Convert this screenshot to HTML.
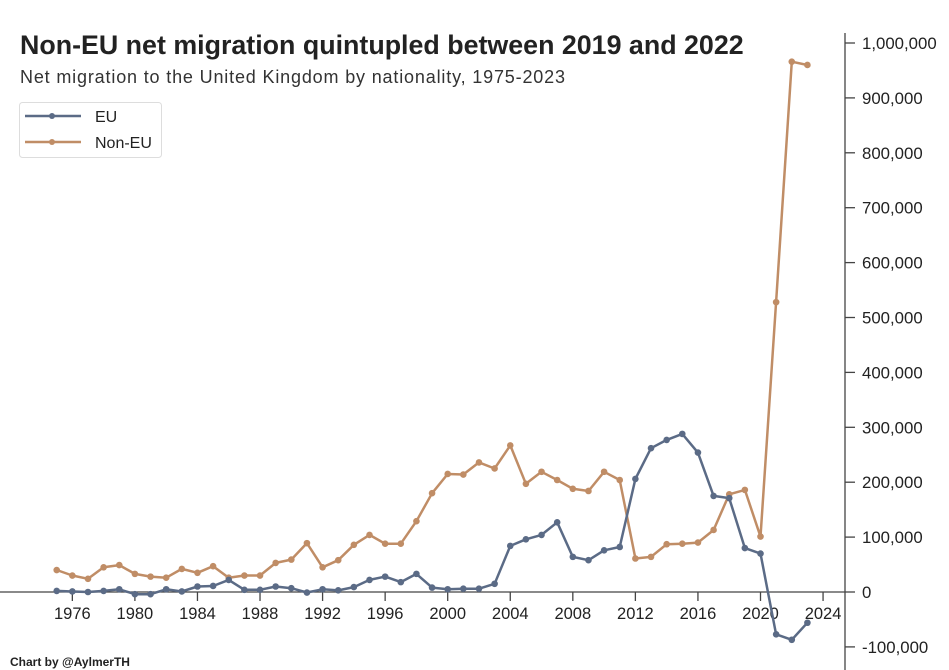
<!DOCTYPE html>
<html><head><meta charset="utf-8"><style>
body{margin:0;background:#fff;}
svg{display:block;font-family:"Liberation Sans",sans-serif;}
</style></head><body>
<svg id="chart" width="949" height="670">
<rect width="949" height="670" fill="#fff"/>
<text x="20" y="54" font-size="26.8" font-weight="bold" fill="#222">Non-EU net migration quintupled between 2019 and 2022</text>
<text x="20" y="83" font-size="18" fill="#333" textLength="545" lengthAdjust="spacing">Net migration to the United Kingdom by nationality, 1975-2023</text>
<g id="axes"></g>
<g id="series"></g>
<g>
<rect x="19.5" y="102.5" width="142" height="55" rx="3" fill="#fff" stroke="#ddd"/>
<g>
<line x1="25" y1="116" x2="81" y2="116" stroke="#5b6b86" stroke-width="2.5"/><circle cx="52" cy="116" r="3" fill="#5b6b86"/>
<text x="95" y="122" font-size="16" fill="#222">EU</text></g>
<g>
<line x1="25" y1="142" x2="81" y2="142" stroke="#c08d66" stroke-width="2.5"/><circle cx="52" cy="142" r="3" fill="#c08d66"/>
<text x="95" y="148" font-size="16" fill="#222">Non-EU</text></g>
</g>
<text x="10" y="666" font-size="12" font-weight="bold" fill="#222">Chart by @AylmerTH</text>
</svg>
<script>
const years=[1975,1976,1977,1978,1979,1980,1981,1982,1983,1984,1985,1986,1987,1988,1989,1990,1991,1992,1993,1994,1995,1996,1997,1998,1999,2000,2001,2002,2003,2004,2005,2006,2007,2008,2009,2010,2011,2012,2013,2014,2015,2016,2017,2018,2019,2020,2021,2022,2023];
const euValues=[2000,1000,0,2000,5000,-4000,-4000,5000,1000,10000,11000,22000,4000,4000,10000,7000,-1000,5000,3000,9000,22000,28000,18000,33000,8000,5000,6000,6000,15000,84000,96000,104000,127000,64000,58000,76000,82000,206000,262000,277000,288000,254000,175000,171000,80000,70000,-77000,-87000,-56000];
const nonEuValues=[40000,30000,24000,45000,49000,33000,28000,26000,42000,35000,47000,26000,30000,30000,53000,59000,89000,45000,58000,86000,104000,88000,88000,129000,180000,215000,214000,236000,225000,267000,197000,219000,204000,188000,184000,219000,204000,61000,64000,87000,88000,90000,113000,178000,186000,101000,528000,966000,960000];
const yTicks=[-100000,0,100000,200000,300000,400000,500000,600000,700000,800000,900000,1000000];
const xTicks=[1976,1980,1984,1988,1992,1996,2000,2004,2008,2012,2016,2020,2024];
const NS='http://www.w3.org/2000/svg';
const x=v=>447.7+(v-2000)*15.64;
const y=v=>592-v*0.000549;
function mk(t,a,p){const e=document.createElementNS(NS,t);for(const k in a)e.setAttribute(k,a[k]);p.appendChild(e);return e;}
const axes=document.getElementById('axes');
const fmt=v=>v.toLocaleString('en-US');
let zl=mk('line',{x1:0,x2:845,y1:y(0),y2:y(0),stroke:'#444','stroke-width':1.3},axes);


let yl=mk('line',{x1:845,x2:845,y1:33,y2:670,stroke:'#444','stroke-width':1.3},axes);


yTicks.forEach(v=>{
 const g=mk('g',{},axes);
 
 
 mk('line',{x1:845,x2:855,y1:y(v),y2:y(v),stroke:'#444','stroke-width':1.3},g);
 const t=mk('text',{x:862,y:y(v)+6,'font-size':16.8,fill:'#222'},g);t.textContent=fmt(v);
});
xTicks.forEach(v=>{
 const g=mk('g',{},axes);
 
 
 mk('line',{x1:x(v),x2:x(v),y1:y(0),y2:y(0)+9,stroke:'#444','stroke-width':1.3},g);
 const t=mk('text',{x:x(v),y:619,'font-size':16.5,fill:'#222','text-anchor':'middle'},g);t.textContent=v;
});
const ser=document.getElementById('series');
function draw(vals,color,name){
 const g=mk('g',{},ser);
 
 
 const pts=years.map((yr,i)=>x(yr).toFixed(1)+','+y(vals[i]).toFixed(1)).join(' ');
 const l=mk('polyline',{points:pts,fill:'none',stroke:color,'stroke-width':2.5,'stroke-linejoin':'round'},g);
 
 
 years.forEach((yr,i)=>{
  const c=mk('circle',{cx:x(yr),cy:y(vals[i]),r:3.3,fill:color},g);
  
  
 });
}
draw(nonEuValues,'#c08d66','non-eu');
draw(euValues,'#5b6b86','eu');
</script>
</body></html>
